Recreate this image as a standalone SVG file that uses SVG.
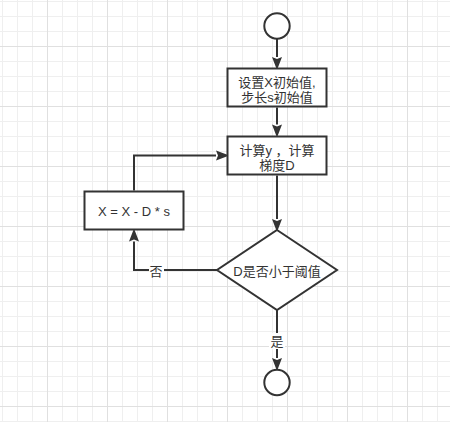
<svg xmlns="http://www.w3.org/2000/svg" width="450" height="422" viewBox="0 0 450 422">
<defs>
<pattern id="minor" x="2" y="1" width="15" height="15" patternUnits="userSpaceOnUse">
<path d="M0.5,0 V15 M0,0.5 H15" stroke="#efefef" stroke-width="1" fill="none"/>
</pattern>
<pattern id="major" x="47" y="46" width="60" height="60" patternUnits="userSpaceOnUse">
<path d="M0.5,0 V60 M0,0.5 H60" stroke="#e0e0e0" stroke-width="1" fill="none"/>
</pattern>
<marker id="arrow" markerUnits="userSpaceOnUse" viewBox="-11 -6 13 12" refX="-10" refY="0" markerWidth="13" markerHeight="12" orient="auto">
<path d="M3,0 L-10,-5 L-8,0 L-10,5 Z" fill="#333333"/>
</marker>
<style>
.shape{fill:#ffffff;stroke:#333333;stroke-width:2}
.edge{fill:none;stroke:#333333;stroke-width:2;marker-end:url(#arrow)}
text{font-family:"Liberation Sans","Noto Sans CJK SC",sans-serif;font-size:13px;fill:#333333;text-anchor:middle}
.lbg{fill:#ffffff}
</style>
</defs>
<rect width="450" height="422" fill="#ffffff"/>
<rect width="450" height="422" fill="url(#minor)"/>
<rect width="450" height="422" fill="url(#major)"/>

<g id="connectors">
<path class="edge" d="M277,39 V57"/>
<path class="edge" d="M277,107.5 V124.5"/>
<path class="edge" d="M277,175.5 V219"/>
<path class="edge" d="M277,310 V358"/>
<path class="edge" d="M217,270 H134 V241.5"/>
<path class="edge" d="M134,190.5 V155.5 H216"/>
<rect class="lbg" x="149" y="262" width="15" height="16"/>
<text x="156" y="275.5">否</text>
<rect class="lbg" x="269" y="333" width="16" height="16"/>
<text x="277" y="346">是</text>
</g>

<g id="start">
<circle class="shape" cx="277" cy="26" r="12.7"/>
</g>
<g id="init">
<rect class="shape" x="227.5" y="68.5" width="99" height="38"/>
<text x="277" y="86.5">设置X初始值,</text>
<text x="277" y="102">步长s初始值</text>
</g>
<g id="compute">
<rect class="shape" x="227.5" y="136.5" width="99" height="38"/>
<text x="277" y="155">计算y ，计算</text>
<text x="277" y="170">梯度D</text>
</g>
<g id="update">
<rect class="shape" x="84.5" y="191.5" width="99" height="38"/>
<text x="134" y="216">X = X - D * s</text>
</g>
<g id="decision">
<path class="shape" d="M277,230 L337,270 L277,310 L217,270 Z"/>
<text x="277" y="276">D是否小于阈值</text>
</g>
<g id="end">
<circle class="shape" cx="277" cy="382.5" r="12.7"/>
</g>
</svg>
